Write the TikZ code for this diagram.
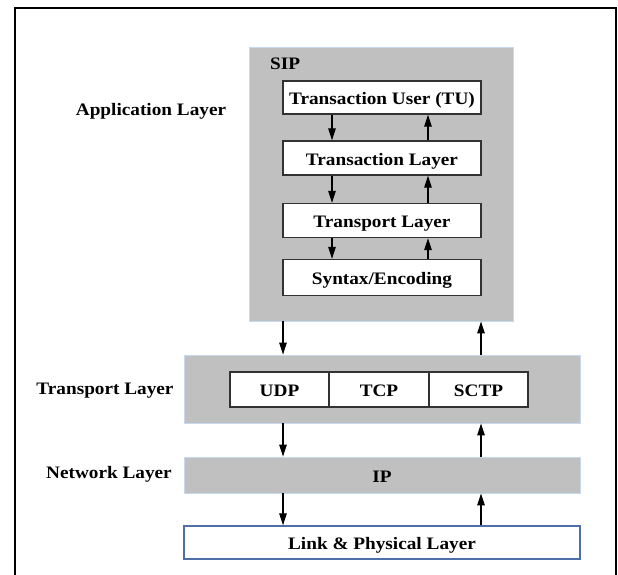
\documentclass[tikz,border=0pt]{standalone}
\usepackage{fontspec}
\setmainfont{Liberation Serif}[FakeStretch=1.1]
\usetikzlibrary{arrows.meta}
\definecolor{boxgray}{RGB}{192,192,192}
\definecolor{edgeblue}{RGB}{198,217,241}
\definecolor{linkblue}{RGB}{79,111,168}
\definecolor{inkgray}{RGB}{50,50,50}
\tikzset{
  txt/.style={font=\fontsize{17.5}{20}\selectfont\bfseries},
  boxtxt/.style={txt, text height=16pt, text depth=2pt},
  graybox/.style={fill=boxgray, draw=edgeblue, line width=0.8pt, inner sep=0pt},
  whitebox/.style={fill=white, draw=inkgray, line width=1.3pt, inner sep=0pt, boxtxt},
  linkbox/.style={fill=white, draw=linkblue, line width=1.3pt, inner sep=0pt, boxtxt},
  lbl/.style={inner sep=0pt, txt},
  arr/.style={line width=1.2pt, -{Triangle[width=7.5pt,length=12pt]}}
}
\begin{document}
\begin{tikzpicture}[x=1pt,y=-1pt]
\useasboundingbox (0,0) rectangle (618,574);
% frame
\draw[line width=2.4pt] (15,575) -- (15,8) -- (616,8) -- (616,575);
% SIP block
\node[graybox, minimum width=264pt, minimum height=274pt] (sip) at (381,184) {};
\node[lbl, anchor=west] (siplbl) at (270,64) {SIP};
\node[whitebox, minimum width=198pt, minimum height=33pt] (tu) at (382,97.5) {Transaction User (TU)};
\node[whitebox, minimum width=198pt, minimum height=34pt] (tl) at (382,158) {Transaction Layer};
\node[whitebox, minimum width=198pt, minimum height=34pt] (trl) at (382,220.5) {Transport Layer};
\node[whitebox, minimum width=198pt, minimum height=36pt] (syn) at (382,277.5) {Syntax/Encoding};
% transport layer
\node[graybox, minimum width=396pt, minimum height=68pt] (tp) at (382,389) {};
\node[whitebox, minimum width=99pt, minimum height=35pt] (udp) at (279.5,389.5) {UDP};
\node[whitebox, minimum width=100pt, minimum height=35pt] (tcp) at (379,389.5) {TCP};
\node[whitebox, minimum width=99pt, minimum height=35pt] (sctp) at (478.5,389.5) {SCTP};
% network layer
\node[graybox, minimum width=396pt, minimum height=36pt, boxtxt] (ip) at (382,475) {IP};
% link layer
\node[linkbox, minimum width=396pt, minimum height=33pt] (link) at (382,542.5) {Link \& Physical Layer};
% side labels
\node[lbl] (applbl) at (151,111) {Application Layer};
\node[lbl] (tplbl) at (105,391) {Transport Layer};
\node[lbl] (netlbl) at (109,474) {Network Layer};
% arrows inside SIP
\draw[arr] (tu.south -| 332,0) -- (tl.north -| 332,0);
\draw[arr] (tl.south -| 332,0) -- (trl.north -| 332,0);
\draw[arr] (trl.south -| 332,0) -- (syn.north -| 332,0);
\draw[arr] (tl.north -| 428,0) -- (tu.south -| 428,0);
\draw[arr] (trl.north -| 428,0) -- (tl.south -| 428,0);
\draw[arr] (syn.north -| 428,0) -- (trl.south -| 428,0);
% arrows between layers
\draw[arr] (sip.south -| 283,0) -- (tp.north -| 283,0);
\draw[arr] (tp.north -| 481,0) -- (sip.south -| 481,0);
\draw[arr] (tp.south -| 283,0) -- (ip.north -| 283,0);
\draw[arr] (ip.north -| 481,0) -- (tp.south -| 481,0);
\draw[arr] (ip.south -| 283,0) -- (link.north -| 283,0);
\draw[arr] (link.north -| 481,0) -- (ip.south -| 481,0);
\end{tikzpicture}
\end{document}
